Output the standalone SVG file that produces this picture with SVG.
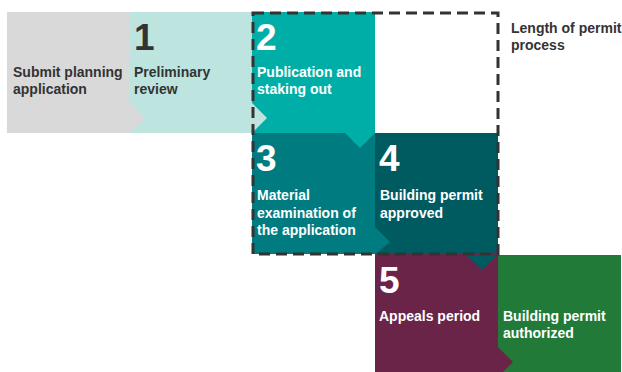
<svg xmlns="http://www.w3.org/2000/svg" width="622" height="372" viewBox="0 0 622 372">
<style>
text{font-family:"Liberation Sans",Arial,sans-serif;font-weight:bold}
.lbl{font-size:14px}
.num{font-size:37px}
.dk{fill:#333333}
.wt{fill:#ffffff}
</style>
<rect width="622" height="372" fill="#ffffff"/>
<g id="node-submit">
<rect x="7" y="12" width="123" height="121" fill="#d9d9d9"/>
<text class="lbl dk" x="13" y="77">Submit planning</text>
<text class="lbl dk" x="13" y="94">application</text>
</g>
<g id="node-1">
<rect x="130" y="12" width="122" height="121" fill="#bee4e0"/>
<text class="num dk" x="134" y="50">1</text>
<text class="lbl dk" x="134" y="77">Preliminary</text>
<text class="lbl dk" x="134" y="94">review</text>
</g>
<g id="node-2">
<rect x="252" y="12" width="123" height="121" fill="#00aea8"/>
<text class="num wt" x="256" y="50">2</text>
<text class="lbl wt" x="257" y="77">Publication and</text>
<text class="lbl wt" x="257" y="94">staking out</text>
</g>
<g id="node-3">
<rect x="252" y="133" width="123" height="121" fill="#007c81"/>
<text class="num wt" x="256" y="171">3</text>
<text class="lbl wt" x="257" y="200">Material</text>
<text class="lbl wt" x="257" y="217.5">examination of</text>
<text class="lbl wt" x="257" y="235">the application</text>
</g>
<g id="node-4">
<rect x="375" y="133" width="123" height="121" fill="#005b61"/>
<text class="num wt" x="379" y="171">4</text>
<text class="lbl wt" x="380" y="200">Building permit</text>
<text class="lbl wt" x="380" y="217.5">approved</text>
</g>
<g id="node-5">
<rect x="375" y="254" width="123" height="118" fill="#6a2447"/>
<text class="num wt" x="379" y="293">5</text>
<text class="lbl wt" x="379" y="321">Appeals period</text>
</g>
<g id="node-authorized">
<rect x="498" y="255" width="123" height="117" fill="#227a39"/>
<text class="lbl wt" x="503" y="321">Building permit</text>
<text class="lbl wt" x="503" y="338">authorized</text>
</g>
<g id="connectors">
<polygon points="130,103 145,118 130,133" fill="#d9d9d9"/>
<polygon points="252,103 267,118 252,133" fill="#bee4e0"/>
<polygon points="345,133 375,133 360,148" fill="#00aea8"/>
<polygon points="375,227 390,242 375,254" fill="#007c81"/>
<polygon points="498,347 513,362 498,377" fill="#6a2447"/>
</g>
<g id="permit-length">
<rect x="253" y="13" width="245" height="241" fill="none" stroke="#333333" stroke-width="3" stroke-dasharray="11,6"/>
<text class="lbl dk" x="511" y="33">Length of permit</text>
<text class="lbl dk" x="511" y="50">process</text>
</g>
<g id="connector-4-5">
<polygon points="467,255.5 497,255.5 482,270" fill="#005b61"/>
</g>
</svg>
